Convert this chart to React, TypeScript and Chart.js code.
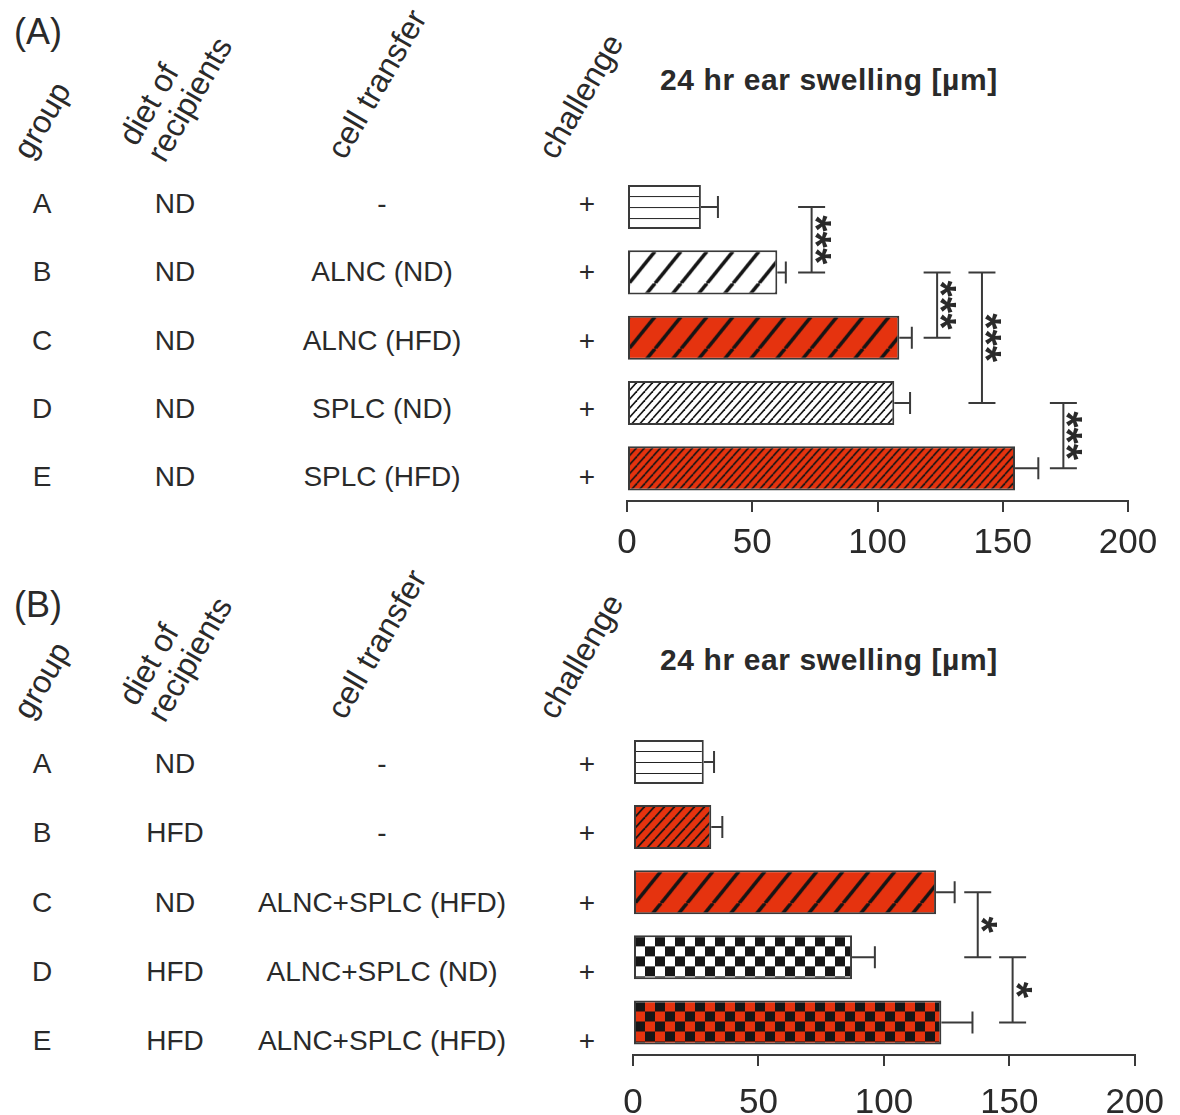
import React, { useEffect, useRef } from "react";
import { Chart, registerables } from "chart.js";
Chart.register(...registerables);

// ---------- data ----------
const groups = ["A", "B", "C", "D", "E"];
const xTicks = [0, 50, 100, 150, 200];

const dietA = ["ND", "ND", "ND", "ND", "ND"];
const transferA = ["-", "ALNC (ND)", "ALNC (HFD)", "SPLC (ND)", "SPLC (HFD)"];
const challengeA = ["+", "+", "+", "+", "+"];
const swellingA = [29.5, 60, 108.7, 106.7, 154.9];
const semA = [6.8, 3.4, 5, 6.3, 9.3];
const patternsA = ["hlines", "diagWide", "diagWideRed", "diagThin", "diagThinRed"];
const sigA = [
  { from: 0, to: 1, x: 73.7, label: "***" },
  { from: 1, to: 2, x: 123.8, label: "***" },
  { from: 1, to: 3, x: 141.7, label: "***" },
  { from: 3, to: 4, x: 174.2, label: "***" },
];

const dietB = ["ND", "HFD", "ND", "HFD", "HFD"];
const transferB = ["-", "-", "ALNC+SPLC (HFD)", "ALNC+SPLC (ND)", "ALNC+SPLC (HFD)"];
const challengeB = ["+", "+", "+", "+", "+"];
const swellingB = [28.2, 31.2, 120.8, 87.3, 122.9];
const semB = [4.1, 4.4, 7.4, 9.1, 12.4];
const patternsB = ["hlines", "diagThinRed2", "diagWideRed", "checker", "checkerRed"];
const sigB = [
  { from: 2, to: 3, x: 137.4, label: "*" },
  { from: 3, to: 4, x: 151.3, label: "*" },
];

const headers = ["group", "diet of\nrecipients", "cell transfer", "challenge"];
const title = "24 hr ear swelling [µm]";

// ---------- styles ----------
const FONT = '"Liberation Sans", Arial, Helvetica, sans-serif';
const RED = "#e5330f";
const INK = "#2a2a2a";
const LINE = "#3a3a3a";

function makePattern(kind: string): CanvasPattern | string {
  const c = document.createElement("canvas");
  const g = c.getContext("2d")!;
  const diag = (bg: string, period: number, angle: number, lw: number) => {
    const w = period;
    const h = Math.max(1, Math.round(period * Math.tan((angle * Math.PI) / 180)));
    c.width = w;
    c.height = h;
    g.fillStyle = bg;
    g.fillRect(0, 0, w, h);
    g.strokeStyle = "#151515";
    g.lineWidth = lw;
    for (let k = -1; k <= 1; k++) {
      g.beginPath();
      g.moveTo(k * w, h);
      g.lineTo(k * w + w, 0);
      g.stroke();
    }
  };
  if (kind === "hlines") {
    c.width = 8;
    c.height = 11;
    g.fillStyle = "#fff";
    g.fillRect(0, 0, 8, 11);
    g.fillStyle = "#222";
    g.fillRect(0, 10, 8, 2);
  } else if (kind === "diagWide") diag("#fff", 26, 51, 3.6);
  else if (kind === "diagWideRed") diag(RED, 26, 51, 3.6);
  else if (kind === "diagThin") diag("#fff", 8, 48, 1.6);
  else if (kind === "diagThinRed") diag(RED, 8, 48, 1.6);
  else if (kind === "diagThinRed2") diag(RED, 10, 48, 1.8);
  else if (kind === "checker" || kind === "checkerRed") {
    const s = 10;
    c.width = 20;
    c.height = 20;
    g.fillStyle = kind === "checker" ? "#fff" : RED;
    g.fillRect(0, 0, 20, 20);
    g.fillStyle = "#161616";
    g.fillRect(0, 0, s, s);
    g.fillRect(s, s, s, s);
  }
  const p = g.createPattern(c, "repeat");
  return p || "#fff";
}

type Sig = { from: number; to: number; x: number; label: string };

const alignPatterns = {
  id: "alignPatterns",
  beforeDatasetsDraw(chart: any) {
    const meta = chart.getDatasetMeta(0);
    const bg = chart.data.datasets[0].backgroundColor as any[];
    meta.data.forEach((el: any, i: number) => {
      const p = bg[i];
      if (p && typeof p !== "string" && p.setTransform) {
        const left = Math.min(el.base, el.x);
        const top = el.y - el.height / 2;
        p.setTransform(new DOMMatrix([1, 0, 0, 1, left + 1, top + 1]));
      }
    });
  },
};

const errorAndSig = {
  id: "errorAndSig",
  afterDatasetsDraw(chart: any) {
    const ctx = chart.ctx;
    const xs = chart.scales.x;
    const ys = chart.scales.y;
    const vals = chart.data.datasets[0].data as number[];
    const errs = (chart.options.plugins as any).errorAndSig.errors as number[];
    const sigs = (chart.options.plugins as any).errorAndSig.sigs as Sig[];
    ctx.save();
    ctx.strokeStyle = LINE;
    ctx.lineWidth = 2;
    vals.forEach((v, i) => {
      const x1 = xs.getPixelForValue(v);
      const x2 = xs.getPixelForValue(v + errs[i]);
      const y = ys.getPixelForValue(i);
      ctx.beginPath();
      ctx.moveTo(x1, y);
      ctx.lineTo(x2, y);
      ctx.moveTo(x2, y - 11);
      ctx.lineTo(x2, y + 11);
      ctx.stroke();
    });
    sigs.forEach((s) => {
      const x = xs.getPixelForValue(s.x);
      const y1 = ys.getPixelForValue(s.from);
      const y2 = ys.getPixelForValue(s.to);
      ctx.beginPath();
      ctx.moveTo(x, y1);
      ctx.lineTo(x, y2);
      ctx.moveTo(x - 13.5, y1);
      ctx.lineTo(x + 13.5, y1);
      ctx.moveTo(x - 13.5, y2);
      ctx.lineTo(x + 13.5, y2);
      ctx.stroke();
      ctx.save();
      ctx.translate(x - 10, (y1 + y2) / 2);
      ctx.rotate(Math.PI / 2);
      ctx.fillStyle = INK;
      ctx.font = `bold 42px ${FONT}`;
      ctx.textAlign = "center";
      ctx.textBaseline = "alphabetic";
      ctx.fillText(s.label, 0, 0);
      ctx.restore();
    });
    ctx.restore();
  },
};

type PanelProps = {
  letter: string;
  top: number;
  letterTop: number;
  titleTop: number;
  diet: string[];
  transfer: string[];
  challenge: string[];
  values: number[];
  errors: number[];
  patterns: string[];
  sigs: Sig[];
  rowStep: number;
  chartTop: number;
  chartH: number;
  padLeft: number;
  padRight: number;
  padTop: number;
  padBottom: number;
  tickPad: number;
};

function Panel(p: PanelProps) {
  const ref = useRef<HTMLCanvasElement>(null);
  useEffect(() => {
    const canvas = ref.current!;
    const bgs = p.patterns.map((k) => makePattern(k));
    const chart = new Chart(canvas, {
      type: "bar",
      data: {
        labels: groups,
        datasets: [
          {
            data: p.values,
            backgroundColor: bgs as any,
            borderColor: LINE,
            borderWidth: 2,
            borderSkipped: false,
            barPercentage: 0.675,
            categoryPercentage: 1,
          },
        ],
      },
      options: {
        indexAxis: "y",
        animation: false,
        responsive: false,
        maintainAspectRatio: false,
        events: [],
        layout: { padding: { left: p.padLeft, right: p.padRight, top: p.padTop, bottom: p.padBottom } },
        plugins: {
          legend: { display: false },
          tooltip: { enabled: false },
          errorAndSig: { errors: p.errors, sigs: p.sigs },
        } as any,
        scales: {
          x: {
            type: "linear",
            min: 0,
            max: 200,
            afterBuildTicks: (s: any) => {
              s.ticks = xTicks.map((v) => ({ value: v }));
            },
            afterFit: (s: any) => {
              s.height = 60;
            },
            ticks: {
              color: INK,
              padding: p.tickPad,
              font: { family: FONT, size: 35 },
              maxRotation: 0,
            },
            grid: { drawOnChartArea: false, drawTicks: true, tickLength: 11, color: LINE, lineWidth: 2 },
            border: { display: true, color: LINE, width: 2 },
          },
          y: { display: false },
        },
      },
      plugins: [alignPatterns, errorAndSig],
    } as any);
    return () => chart.destroy();
  }, []);

  const cols = [42, 175, 382, 587];
  const rowsY = groups.map((_, i) => p.top + 204 + i * p.rowStep);
  const cell = (txt: string, x: number, y: number, key: string) => (
    <div
      key={key}
      style={{
        position: "absolute",
        left: x,
        top: y,
        transform: "translate(-50%, -50%)",
        whiteSpace: "nowrap",
        fontSize: 28,
        lineHeight: "32px",
        color: INK,
      }}
    >
      {txt}
    </div>
  );
  const headPos = [
    [36, 164],
    [170, 167],
    [350, 164],
    [561, 164],
  ];
  return (
    <>
      <div style={{ position: "absolute", left: 14, top: p.letterTop, fontSize: 36, lineHeight: "42px", color: INK }}>
        ({p.letter})
      </div>
      {headers.map((h, i) => (
        <div
          key={"h" + i}
          style={{
            position: "absolute",
            left: headPos[i][0],
            top: p.top + headPos[i][1],
            transformOrigin: "0 0",
            transform: "rotate(-60deg) translateY(-100%)",
            whiteSpace: "pre",
            fontSize: 32,
            lineHeight: "33px",
            color: INK,
          }}
        >
          {h}
        </div>
      ))}
      <div
        style={{
          position: "absolute",
          left: 660,
          top: p.titleTop,
          fontSize: 30,
          fontWeight: "bold",
          lineHeight: "36px",
          letterSpacing: 0.6,
          color: INK,
          whiteSpace: "nowrap",
        }}
      >
        {title}
      </div>
      {groups.map((g, i) => cell(g, cols[0], rowsY[i], "g" + i))}
      {p.diet.map((g, i) => cell(g, cols[1], rowsY[i], "d" + i))}
      {p.transfer.map((g, i) => cell(g, cols[2], rowsY[i], "t" + i))}
      {p.challenge.map((g, i) => cell(g, cols[3], rowsY[i], "c" + i))}
      <canvas
        ref={ref}
        width={580}
        height={p.chartH}
        style={{ position: "absolute", left: 600, top: p.chartTop, width: 580, height: p.chartH }}
      />
    </>
  );
}

export default function App() {
  return (
    <div
      style={{
        position: "absolute",
        left: 0,
        top: 0,
        width: 1180,
        height: 1115,
        background: "#fff",
        fontFamily: FONT,
        overflow: "hidden",
      }}
    >
      <Panel
        letter="A"
        top={0}
        letterTop={11}
        titleTop={62}
        diet={dietA}
        transfer={transferA}
        challenge={challengeA}
        values={swellingA}
        errors={semA}
        patterns={patternsA}
        sigs={sigA}
        rowStep={68.25}
        chartTop={170}
        chartH={400}
        padLeft={27}
        padRight={52}
        padTop={4.4}
        padBottom={9}
        tickPad={10}
      />
      <Panel
        letter="B"
        top={560}
        letterTop={584}
        titleTop={642}
        diet={dietB}
        transfer={transferB}
        challenge={challengeB}
        values={swellingB}
        errors={semB}
        patterns={patternsB}
        sigs={sigB}
        rowStep={69.25}
        chartTop={725}
        chartH={390}
        padLeft={33}
        padRight={43}
        padTop={4.4}
        padBottom={0}
        tickPad={16}
      />
    </div>
  );
}
